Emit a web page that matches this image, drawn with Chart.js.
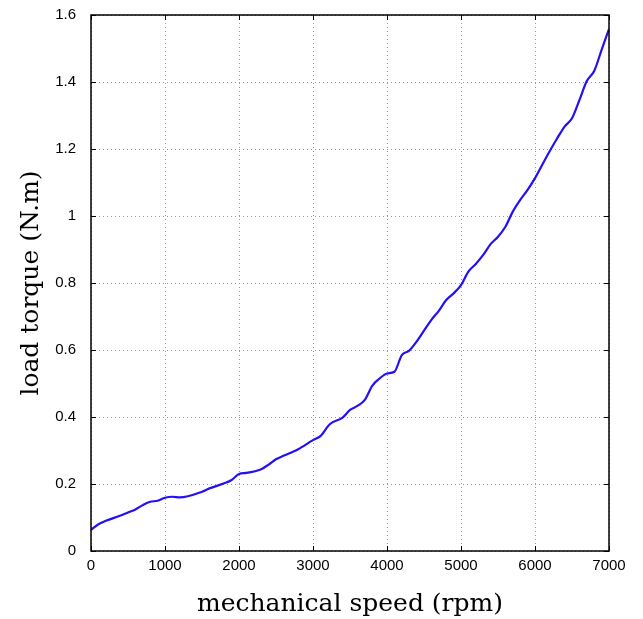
<!DOCTYPE html>
<html>
<head>
<meta charset="utf-8">
<script src="https://cdn.jsdelivr.net/npm/chart.js@4.4.1/dist/chart.umd.min.js"></script>
<style>
  html, body { margin: 0; padding: 0; background: #fff; }
  #wrap { width: 643px; height: 619px; }
</style>
</head>
<body>
<div id="wrap"><canvas id="myChart" width="643" height="619"></canvas></div>
<script>
// speed (rpm) and load torque (N.m)
const speed = [0, 100, 200, 400, 500, 600, 700, 800, 900, 1000, 1100, 1200, 1500, 1600, 1800, 1900,
  2000, 2100, 2300, 2400, 2500, 2600, 2800, 3000, 3100, 3230, 3400, 3500, 3600, 3700, 3800, 3900,
  4000, 4100, 4200, 4300, 4400, 4500, 4600, 4700, 4800, 4900, 5000, 5100, 5200, 5300, 5400, 5500,
  5600, 5700, 5800, 5900, 6000, 6100, 6200, 6300, 6400, 6500, 6600, 6700, 6800, 6900, 7000];
const torque = [0.063, 0.080, 0.090, 0.106, 0.115, 0.124, 0.137, 0.147, 0.150, 0.159, 0.162, 0.160, 0.177, 0.187, 0.202, 0.212,
  0.230, 0.233, 0.244, 0.258, 0.274, 0.284, 0.304, 0.331, 0.343, 0.379, 0.398, 0.421, 0.433, 0.451, 0.493, 0.515,
  0.530, 0.535, 0.585, 0.598, 0.625, 0.658, 0.690, 0.717, 0.749, 0.769, 0.794, 0.834, 0.857, 0.884, 0.916, 0.938,
  0.968, 1.013, 1.048, 1.078, 1.113, 1.154, 1.194, 1.232, 1.267, 1.292, 1.346, 1.403, 1.433, 1.496, 1.558];
const xTicks = [0, 1000, 2000, 3000, 4000, 5000, 6000, 7000];
const yTicks = [0, 0.2, 0.4, 0.6, 0.8, 1, 1.2, 1.4, 1.6];

const points = speed.map((s, i) => ({ x: s, y: torque[i] }));

// frame around the plot plus small inward ticks on every side
const framePlugin = {
  id: 'frame',
  afterDatasetsDraw(chart) {
    const { ctx, chartArea: a, scales } = chart;
    ctx.save();
    ctx.strokeStyle = '#000';
    ctx.lineWidth = 1.5;
    ctx.strokeRect(a.left, a.top, a.right - a.left, a.bottom - a.top);
    ctx.lineWidth = 1;
    ctx.beginPath();
    xTicks.forEach(v => {
      const px = Math.round(scales.x.getPixelForValue(v)) + 0.5;
      ctx.moveTo(px, a.bottom); ctx.lineTo(px, a.bottom - 5);
      ctx.moveTo(px, a.top); ctx.lineTo(px, a.top + 5);
    });
    yTicks.forEach(v => {
      const py = Math.round(scales.y.getPixelForValue(v)) + 0.5;
      ctx.moveTo(a.left, py); ctx.lineTo(a.left + 5, py);
      ctx.moveTo(a.right, py); ctx.lineTo(a.right - 5, py);
    });
    ctx.stroke();
    ctx.restore();
  }
};

const canvas = document.getElementById('myChart');
new Chart(canvas.getContext('2d'), {
  type: 'line',
  data: {
    datasets: [{
      data: points,
      borderColor: 'rgb(36,16,245)',
      borderWidth: 2.2,
      pointRadius: 0,
      fill: false,
      cubicInterpolationMode: 'monotone'
    }]
  },
  options: {
    responsive: false,
    animation: false,
    layout: { padding: { top: 15, right: 34, left: 0, bottom: 0 } },
    plugins: {
      legend: { display: false },
      tooltip: { enabled: false }
    },
    scales: {
      x: {
        type: 'linear',
        min: 0,
        max: 7000,
        afterBuildTicks: s => { s.ticks = xTicks.map(v => ({ value: v })); },
        afterFit: s => { s.height = 68; s.paddingLeft = 0; s.paddingRight = 0; },
        grid: {
          color: '#999',
          lineWidth: 1,
          drawTicks: false
        },
        border: { display: false, dash: [1, 3] },
        ticks: {
          padding: 6,
          color: '#000',
          font: { family: 'Liberation Sans', size: 15 },
          callback: v => String(v)
        },
        title: {
          display: true,
          text: 'mechanical speed (rpm)',
          color: '#000',
          padding: { top: 2, bottom: 0 },
          font: { family: 'DejaVu Serif', size: 25 }
        }
      },
      y: {
        type: 'linear',
        min: 0,
        max: 1.6,
        afterBuildTicks: s => { s.ticks = yTicks.map(v => ({ value: v })); },
        afterFit: s => { s.width = 91; s.paddingTop = 0; s.paddingBottom = 0; },
        grid: {
          color: '#999',
          lineWidth: 1,
          drawTicks: false
        },
        border: { display: false, dash: [1, 3] },
        ticks: {
          padding: 15,
          color: '#000',
          font: { family: 'Liberation Sans', size: 15 },
          callback: v => String(Math.round(v * 10) / 10)
        },
        title: {
          display: true,
          text: 'load torque (N.m)',
          color: '#000',
          padding: { top: 16, bottom: 6 },
          font: { family: 'DejaVu Serif', size: 25 }
        }
      }
    }
  },
  plugins: [framePlugin]
});
</script>
</body>
</html>
